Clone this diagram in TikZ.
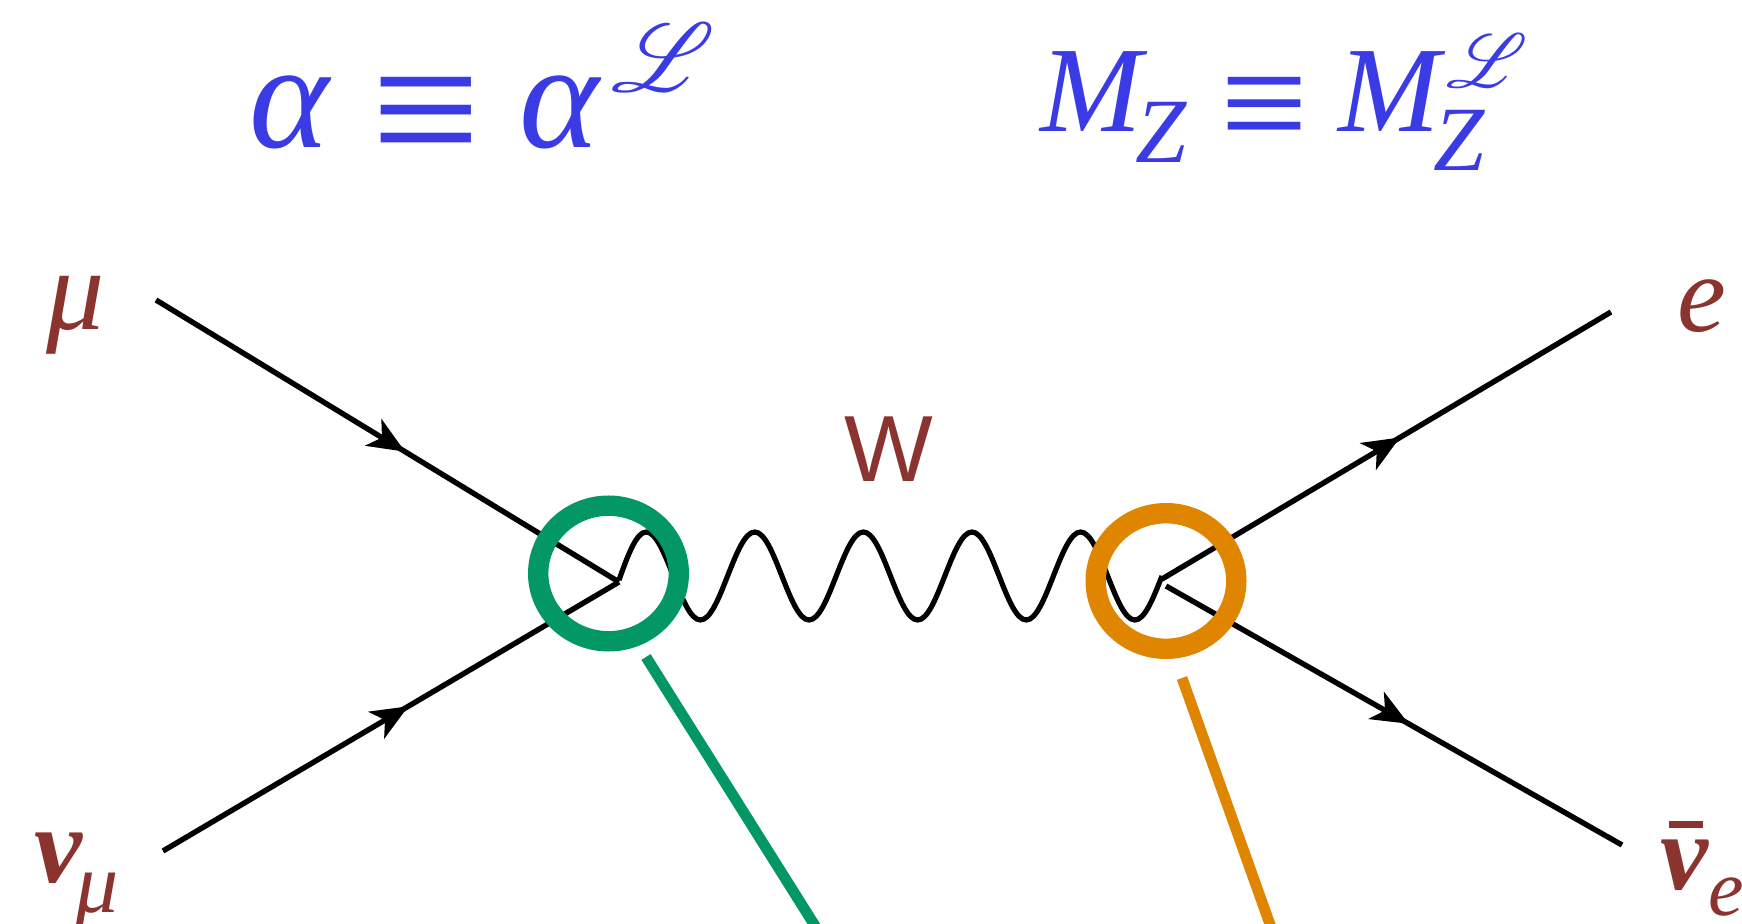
\documentclass[tikz,border=0pt]{standalone}
\usepackage{fontspec}
\usepackage{mathrsfs}
\setmainfont{Liberation Serif}
\setsansfont{Liberation Sans}
\usetikzlibrary{arrows.meta,decorations.markings,shapes.geometric}
\definecolor{Green}{HTML}{029764}
\definecolor{Orange}{HTML}{DF8500}
\definecolor{Blue}{HTML}{3B3BE6}
\definecolor{Brown}{HTML}{8B332F}
\newcommand{\scriptL}[1]{\scalebox{#1}{$\mathscr{L}$}}
\newcommand{\bigequiv}[2]{\raisebox{#2}{\fontsize{#1}{#1}\selectfont\upshape ≡}}
\tikzset{
  fermion/.style={draw=black,line width=2.7pt,postaction={decorate},
    decoration={markings,mark=at position #1 with {\arrow{Stealth[length=18.5pt,width=15.5pt,inset=5pt]}}}},
  boson/.style={draw=black,line width=2.6pt},
  ring/.style={ellipse,draw=#1,line width=10.2pt,minimum width=70.3pt,minimum height=67.8pt,inner sep=0pt,outer sep=0pt},
  pointer/.style={draw=#1,line width=5.4pt},
  particle/.style={anchor=base west,inner sep=0pt,text=Brown,font=\fontsize{55}{60}\selectfont\itshape},
  neutrino/.style={particle,font=\fontsize{54}{60}\selectfont\bfseries\itshape},
  formula/.style={anchor=base west,inner sep=0pt,text=Blue,font=\itshape}
}

\begin{document}
\begin{tikzpicture}[x=.5pt,y=-.5pt]
    \useasboundingbox (0,0) rectangle (1742,924);
    \clip (0,0) rectangle (1742,924);
    % vertices and free ends
    \coordinate (muin) at (156,300);
    \coordinate (numuin) at (163,851);
    \coordinate (vleft) at (619,582);
    \coordinate (vright) at (1162,579);
    \coordinate (vrightb) at (1166,586);
    \coordinate (eout) at (1611,312);
    \coordinate (nueout) at (1622,845);
    \coordinate (wleft) at (619,580);
    \draw[fermion=.538] (muin)--(vleft);
    \draw[fermion=.538] (numuin)--(vleft);
    \draw[fermion=.53] (vright)--(eout);
    \draw[fermion=.532] (vrightb)--(nueout);
    % five periods of the W line
    \draw[boson] (wleft) sin ++(27.15,-48) cos ++(27.15,44) sin ++(27.15,44) cos ++(27.15,-44)
      \foreach \period in {1,...,4} {sin ++(27.15,-44) cos ++(27.15,44) sin ++(27.15,44) cos ++(27.15,-44)};

    \node[ring=Green] (ringleft) at (608.5,573.5) {};
    \node[ring=Orange] (ringright) at (1166,581) {};
    \coordinate (pleft) at (646,657);
    \coordinate (pleftend) at (817,929);
    \coordinate (pright) at (1182,678);
    \coordinate (prightend) at (1272,930);
    \draw[pointer=Green] (pleft)--(pleftend);
    \draw[pointer=Orange] (pright)--(prightend);

    \node[particle,font=\fontsize{58}{60}\selectfont\itshape] (mu) at (46,330) {μ};
    \node[particle] (e) at (1677,332) {e};
    \node[neutrino] (numu) at (34,883) {ν\hspace{-3.5pt}\raisebox{-15pt}{\fontsize{43}{45}\mdseries\selectfont μ}};
    \node[neutrino] (nue) at (1660,890) {\makebox[0pt][l]{\hspace{4.5pt}\raisebox{31pt}{\rule{17pt}{3.3pt}}}ν\raisebox{-13pt}{\fontsize{40}{42}\mdseries\selectfont e}};
    \node[anchor=base west,inner sep=0pt,text=Brown,font=\fontsize{47}{49}\selectfont\sffamily] (w) at (844,482) {W};

    \node[formula] (alpha) at (249,148) {\fontsize{76}{78}\selectfont α\hspace{21pt}\bigequiv{97}{-13.3pt}\hspace{19.4pt}α\hspace{6pt}\raisebox{28pt}{\scriptL{1.95}}};
    \node[formula] (mz) at (1040,132) {\fontsize{61}{63}\selectfont M\hspace{-3.3pt}\raisebox{-15.5pt}{\fontsize{46}{48}\selectfont Z}\hspace{16.7pt}\bigequiv{78}{-11.7pt}\hspace{15.45pt}M\hspace{-3.3pt}\raisebox{-19.5pt}{\fontsize{46}{48}\selectfont Z}\hspace{-19.5pt}\raisebox{22pt}{\scriptL{1.53}}};
\end{tikzpicture}
\end{document}
